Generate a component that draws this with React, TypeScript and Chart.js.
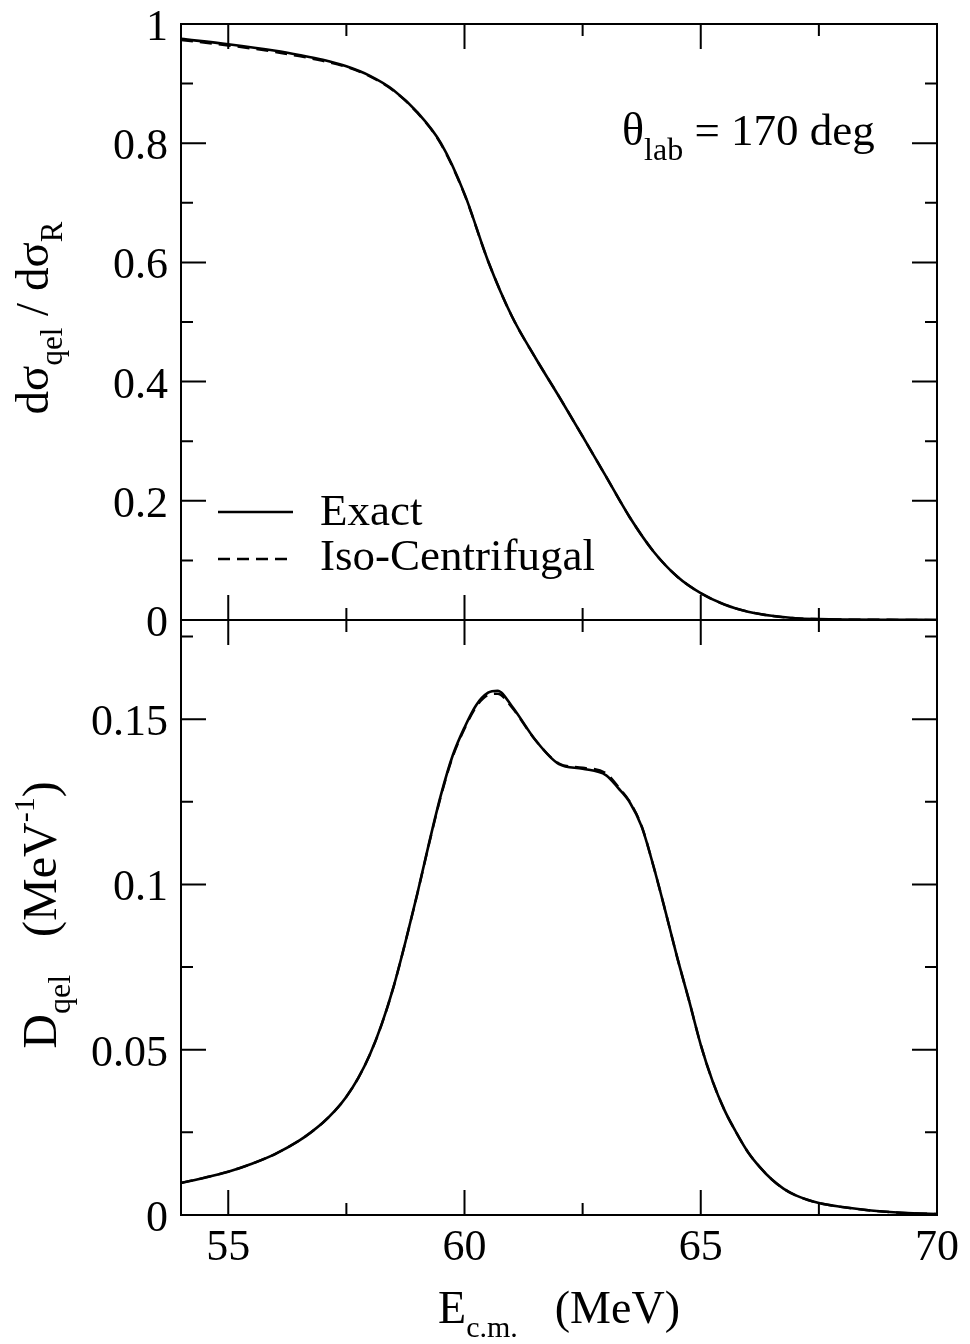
import React, { useEffect, useRef } from "react";
import { Chart, registerables } from "chart.js";

Chart.register(...registerables);

// ---------- data ----------
const topEnergy = [54, 55, 56, 56.5, 57, 57.5, 58, 58.5, 59, 59.5, 60, 60.5, 61, 61.5, 62, 62.5, 63, 63.5, 64, 64.5, 65, 65.5, 66, 66.5, 67, 67.5, 68, 69, 70];
const topExact = [0.975, 0.966, 0.955, 0.948, 0.94, 0.929, 0.913, 0.889, 0.852, 0.8, 0.715, 0.602, 0.51, 0.44, 0.375, 0.308, 0.24, 0.172, 0.115, 0.073, 0.045, 0.026, 0.014, 0.007, 0.003, 0.0015, 0.0008, 0.0003, 0.0001];
const topIso = [0.973, 0.964, 0.953, 0.946, 0.938, 0.928, 0.912, 0.888, 0.851, 0.799, 0.714, 0.602, 0.51, 0.44, 0.375, 0.308, 0.24, 0.172, 0.115, 0.073, 0.045, 0.026, 0.014, 0.007, 0.003, 0.0015, 0.0008, 0.0003, 0.0001];

const botEnergy = [54, 54.5, 55, 55.5, 56, 56.5, 56.75, 57, 57.25, 57.5, 57.75, 58, 58.25, 58.5, 58.75, 59, 59.25, 59.5, 59.75, 60, 60.25, 60.5, 60.7, 61, 61.5, 62, 62.5, 63, 63.25, 63.5, 63.75, 64, 64.25, 64.5, 64.75, 65, 65.25, 65.5, 65.75, 66, 66.25, 66.5, 66.75, 67, 67.5, 68, 68.5, 69, 69.5, 70];
const botExact = [0.0097, 0.0113, 0.0131, 0.0155, 0.0185, 0.0225, 0.025, 0.0279, 0.0314, 0.0358, 0.0414, 0.0486, 0.0578, 0.0691, 0.0826, 0.0971, 0.1125, 0.127, 0.139, 0.1475, 0.1543, 0.158, 0.1586, 0.154, 0.1437, 0.1364, 0.135, 0.133, 0.1292, 0.1248, 0.1175, 0.1055, 0.092, 0.078, 0.065, 0.0515, 0.0405, 0.0318, 0.025, 0.019, 0.0145, 0.0108, 0.008, 0.006, 0.0036, 0.0024, 0.0015, 0.0009, 0.0005, 0.0003];
const botIso = [0.0097, 0.0113, 0.0131, 0.0155, 0.0185, 0.0225, 0.025, 0.0279, 0.0314, 0.0358, 0.0414, 0.0486, 0.0578, 0.0691, 0.0826, 0.0971, 0.1123, 0.1267, 0.1386, 0.1471, 0.1538, 0.1573, 0.1577, 0.1536, 0.1437, 0.1366, 0.1353, 0.1336, 0.1296, 0.125, 0.1176, 0.1055, 0.092, 0.078, 0.065, 0.0515, 0.0405, 0.0318, 0.025, 0.019, 0.0145, 0.0108, 0.008, 0.006, 0.0036, 0.0024, 0.0015, 0.0009, 0.0005, 0.0003];

const xMajorTicks = [55, 60, 65, 70];
const xTickLabels = ["55", "60", "65", "70"];
const xMinorTicks = [57.5, 62.5, 67.5];
const topYMajor = [0, 0.2, 0.4, 0.6, 0.8, 1];
const topYLabels = ["0", "0.2", "0.4", "0.6", "0.8", "1"];
const topYMinor = [0.1, 0.3, 0.5, 0.7, 0.9];
const botYMajor = [0, 0.05, 0.1, 0.15];
const botYLabels = ["0", "0.05", "0.1", "0.15"];
const botYMinor = [0.025, 0.075, 0.125, 0.175];

const seriesNames = ["Exact", "Iso-Centrifugal"];

// ---------- helpers ----------
const FONT = '"Liberation Serif", "Times New Roman", serif';
const f = (s: number) => `${s}px ${FONT}`;

type Seg = { t: string; size: number; dy?: number; gap?: number };

function drawRich(ctx: CanvasRenderingContext2D, segs: Seg[], x: number, y: number, rot: number, align: "center" | "left") {
  ctx.save();
  ctx.translate(x, y);
  if (rot) ctx.rotate(rot);
  ctx.textAlign = "left";
  ctx.textBaseline = "alphabetic";
  ctx.fillStyle = "#000";
  let w = 0;
  for (const s of segs) {
    ctx.font = f(s.size);
    w += ctx.measureText(s.t).width + (s.gap || 0);
  }
  let cx = align === "center" ? -w / 2 : 0;
  for (const s of segs) {
    ctx.font = f(s.size);
    ctx.fillText(s.t, cx, s.dy || 0);
    cx += ctx.measureText(s.t).width + (s.gap || 0);
  }
  ctx.restore();
}

function framePlugin(opts: {
  yMajor: number[];
  yLabels: string[];
  yMinor: number[];
  xLabels: boolean;
  extra?: (ctx: CanvasRenderingContext2D) => void;
}) {
  return {
    id: "frame",
    afterDraw(chart: any) {
      const ctx: CanvasRenderingContext2D = chart.ctx;
      const xs = chart.scales.x;
      const ys = chart.scales.y;
      const { left, right, top, bottom } = chart.chartArea;
      ctx.save();
      ctx.strokeStyle = "#000";
      ctx.lineWidth = 2;
      ctx.setLineDash([]);
      ctx.strokeRect(left, top, right - left, bottom - top);
      const MAJ = 25;
      const MIN = 12;
      ctx.beginPath();
      const xt = (v: number, len: number) => {
        const px = xs.getPixelForValue(v);
        ctx.moveTo(px, bottom);
        ctx.lineTo(px, bottom - len);
        ctx.moveTo(px, top);
        ctx.lineTo(px, top + len);
      };
      const yt = (v: number, len: number) => {
        const py = ys.getPixelForValue(v);
        ctx.moveTo(left, py);
        ctx.lineTo(left + len, py);
        ctx.moveTo(right, py);
        ctx.lineTo(right - len, py);
      };
      xMajorTicks.forEach((v) => xt(v, MAJ));
      xMinorTicks.forEach((v) => xt(v, MIN));
      opts.yMajor.forEach((v) => yt(v, MAJ));
      opts.yMinor.forEach((v) => yt(v, MIN));
      ctx.stroke();

      ctx.fillStyle = "#000";
      ctx.font = f(44);
      ctx.textAlign = "right";
      ctx.textBaseline = "alphabetic";
      opts.yMajor.forEach((v, i) => {
        ctx.fillText(opts.yLabels[i], left - 13, ys.getPixelForValue(v) + 16);
      });
      if (opts.xLabels) {
        ctx.textAlign = "center";
        xMajorTicks.forEach((v, i) => {
          ctx.fillText(xTickLabels[i], xs.getPixelForValue(v), bottom + 45);
        });
      }
      if (opts.extra) opts.extra(ctx);
      ctx.restore();
    },
  };
}

function makeDatasets(ex: number[], iso: number[], energy: number[]) {
  return [
    {
      label: seriesNames[0],
      data: energy.map((e, i) => ({ x: e, y: ex[i] })),
      borderColor: "#000",
      borderWidth: 2.6,
      pointRadius: 0,
      fill: false,
      cubicInterpolationMode: "monotone" as const,
    },
    {
      label: seriesNames[1],
      data: energy.map((e, i) => ({ x: e, y: iso[i] })),
      borderColor: "#000",
      borderWidth: 2.4,
      borderDash: [12, 7],
      pointRadius: 0,
      fill: false,
      cubicInterpolationMode: "monotone" as const,
    },
  ];
}

function baseOptions(padding: any, yMax: number) {
  return {
    responsive: false,
    animation: false as const,
    devicePixelRatio: 1,
    events: [] as any[],
    layout: { padding },
    plugins: { legend: { display: false }, tooltip: { enabled: false }, title: { display: false } },
    scales: {
      x: { type: "linear" as const, min: 54, max: 70, display: false },
      y: { type: "linear" as const, min: 0, max: yMax, display: false },
    },
  };
}

export default function App() {
  const topRef = useRef<HTMLCanvasElement>(null);
  const botRef = useRef<HTMLCanvasElement>(null);

  useEffect(() => {
    const topChart = new Chart(topRef.current as HTMLCanvasElement, {
      type: "line",
      data: { datasets: makeDatasets(topExact, topIso, topEnergy) as any },
      options: baseOptions({ left: 181, right: 33, top: 24, bottom: 20 }, 1) as any,
      plugins: [
        framePlugin({
          yMajor: topYMajor,
          yLabels: topYLabels,
          yMinor: topYMinor,
          xLabels: false,
          extra: (ctx) => {
            // legend
            ctx.strokeStyle = "#000";
            ctx.lineWidth = 2.6;
            ctx.setLineDash([]);
            ctx.beginPath();
            ctx.moveTo(218, 512);
            ctx.lineTo(293, 512);
            ctx.stroke();
            ctx.lineWidth = 2.4;
            ctx.setLineDash([12, 7]);
            ctx.beginPath();
            ctx.moveTo(218, 559);
            ctx.lineTo(293, 559);
            ctx.stroke();
            ctx.setLineDash([]);
            ctx.fillStyle = "#000";
            ctx.font = f(45);
            ctx.textAlign = "left";
            ctx.textBaseline = "alphabetic";
            ctx.fillText(seriesNames[0], 320, 525);
            ctx.fillText(seriesNames[1], 320, 570);
            // annotation
            drawRich(
              ctx,
              [
                { t: "θ", size: 46 },
                { t: "lab", size: 32, dy: 15 },
                { t: " = 170 deg", size: 45 },
              ],
              622,
              145,
              0,
              "left"
            );
            // y title
            drawRich(
              ctx,
              [
                { t: "dσ", size: 47 },
                { t: "qel", size: 31, dy: 14 },
                { t: " / ", size: 47 },
                { t: "dσ", size: 47 },
                { t: "R", size: 31, dy: 14 },
              ],
              48,
              318,
              -Math.PI / 2,
              "center"
            );
          },
        }) as any,
      ],
    });

    const botChart = new Chart(botRef.current as HTMLCanvasElement, {
      type: "line",
      data: { datasets: makeDatasets(botExact, botIso, botEnergy) as any },
      options: baseOptions({ left: 181, right: 33, top: 20, bottom: 129 }, 0.18) as any,
      plugins: [
        framePlugin({
          yMajor: botYMajor,
          yLabels: botYLabels,
          yMinor: botYMinor,
          xLabels: true,
          extra: (ctx) => {
            drawRich(
              ctx,
              [
                { t: "D", size: 48 },
                { t: "qel", size: 32, dy: 14, gap: 38 },
                { t: "(MeV", size: 48 },
                { t: "-1", size: 30, dy: -22 },
                { t: ")", size: 48 },
              ],
              56,
              315,
              -Math.PI / 2,
              "center"
            );
            drawRich(
              ctx,
              [
                { t: "E", size: 46 },
                { t: "c.m.", size: 30, dy: 14, gap: 37 },
                { t: "(MeV)", size: 46 },
              ],
              559,
              723,
              0,
              "center"
            );
          },
        }) as any,
      ],
    });

    return () => {
      topChart.destroy();
      botChart.destroy();
    };
  }, []);

  return (
    <div style={{ position: "absolute", left: 0, top: 0, width: 970, height: 1344, background: "#fff" }}>
      <canvas
        ref={topRef}
        width={970}
        height={640}
        style={{ position: "absolute", left: 0, top: 0, width: 970, height: 640 }}
      />
      <canvas
        ref={botRef}
        width={970}
        height={744}
        style={{ position: "absolute", left: 0, top: 600, width: 970, height: 744 }}
      />
    </div>
  );
}
